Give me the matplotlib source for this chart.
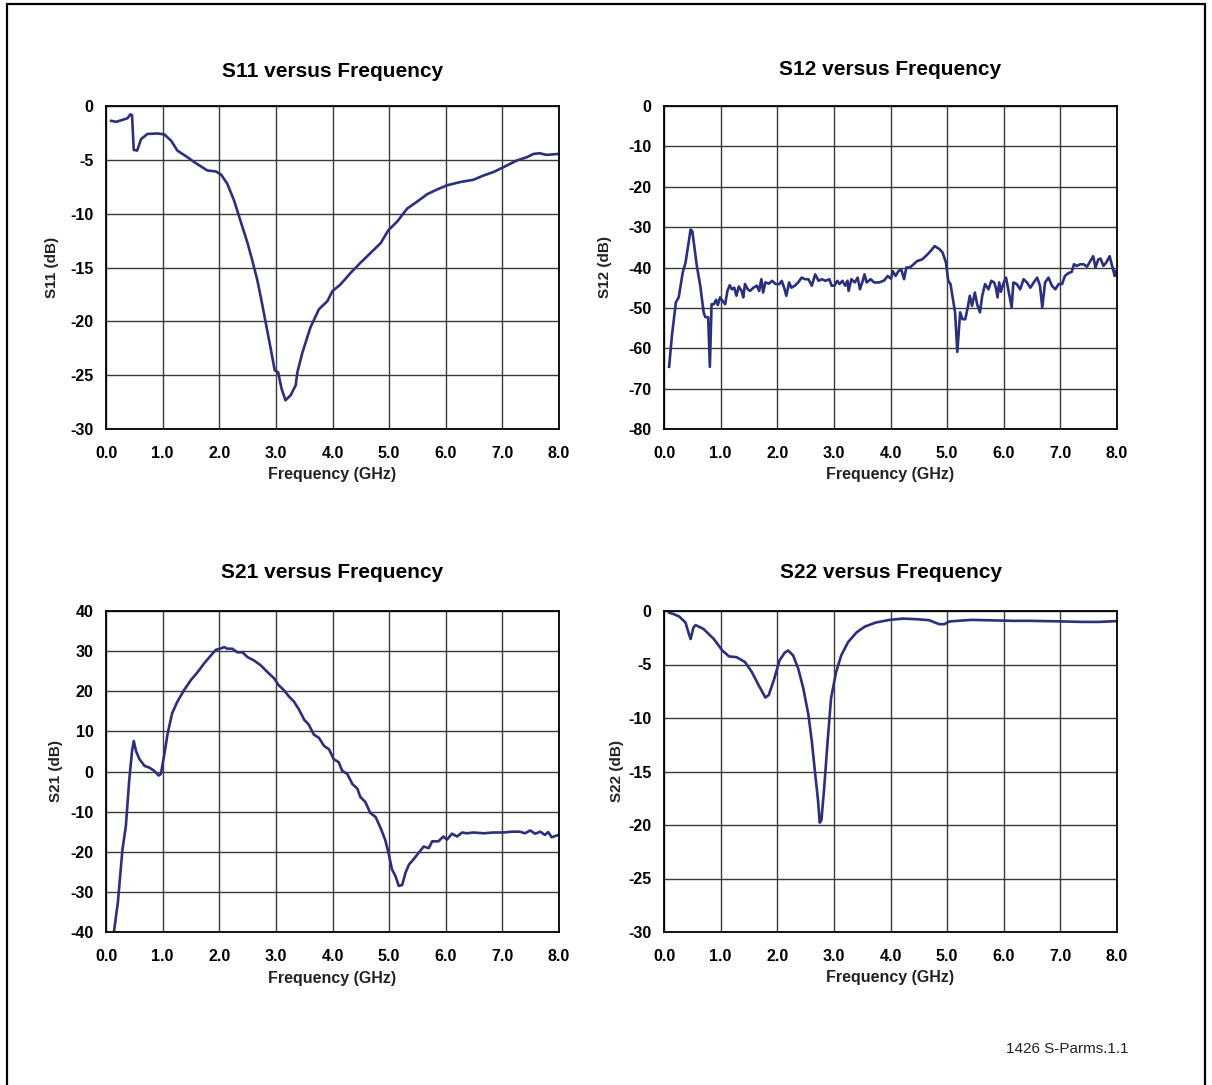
import matplotlib
matplotlib.use('Agg')
import matplotlib.pyplot as plt
from matplotlib.ticker import FormatStrFormatter, MultipleLocator
from matplotlib.patches import Rectangle

plt.rcParams['font.family'] = ['Liberation Sans', 'DejaVu Sans']
plt.rcParams['axes.unicode_minus'] = False

# S11 readings (GHz, dB)
s11_freq = [0.09, 0.18, 0.38, 0.43, 0.46, 0.49, 0.55, 0.62, 0.73, 0.91, 1.03, 1.15, 1.26, 1.44,
            1.56, 1.79, 1.94, 2.03, 2.14, 2.26, 2.38, 2.50, 2.58, 2.67, 2.73, 2.82, 2.91, 2.98,
            3.04, 3.10, 3.17, 3.26, 3.35, 3.38, 3.47, 3.61, 3.76, 3.91, 4.00, 4.14, 4.32, 4.49,
            4.67, 4.85, 4.99, 5.14, 5.32, 5.49, 5.67, 5.84, 6.02, 6.26, 6.49, 6.67, 6.84, 7.02,
            7.25, 7.43, 7.55, 7.66, 7.78, 7.99]
s11_db = [-1.38, -1.47, -1.14, -0.77, -0.86, -4.08, -4.14, -3.07, -2.6, -2.55, -2.64, -3.22, -4.14,
          -4.76, -5.22, -5.99, -6.08, -6.36, -7.2, -8.75, -10.75, -12.74, -14.28, -16.12, -17.65,
          -20.11, -22.57, -24.56, -24.72, -26.25, -27.33, -26.87, -25.94, -24.72, -22.87, -20.57,
          -18.88, -18.12, -17.19, -16.58, -15.5, -14.58, -13.66, -12.74, -11.51, -10.75, -9.52,
          -8.9, -8.2, -7.77, -7.37, -7.06, -6.85, -6.45, -6.14, -5.68, -5.07, -4.76, -4.45, -4.39,
          -4.54, -4.45]

# S12 readings
s12_freq = [0.09, 0.14, 0.21, 0.26, 0.33, 0.38, 0.47, 0.50, 0.58, 0.64, 0.70, 0.73, 0.78, 0.81,
            0.84, 0.88, 0.92, 0.95, 0.99, 1.03, 1.08, 1.12, 1.16, 1.20, 1.24, 1.28, 1.32, 1.37,
            1.40, 1.43, 1.48, 1.52, 1.58, 1.64, 1.68, 1.72, 1.75, 1.79, 1.85, 1.91, 1.97, 2.04,
            2.08, 2.13, 2.16, 2.21, 2.25, 2.31, 2.37, 2.43, 2.49, 2.55, 2.61, 2.67, 2.73, 2.79,
            2.85, 2.92, 2.96, 3.01, 3.06, 3.10, 3.15, 3.20, 3.24, 3.26, 3.31, 3.37, 3.42, 3.46,
            3.51, 3.54, 3.58, 3.65, 3.71, 3.80, 3.89, 3.95, 4.01, 4.04, 4.09, 4.14, 4.19, 4.24,
            4.28, 4.34, 4.41, 4.47, 4.56, 4.65, 4.71, 4.78, 4.86, 4.92, 4.98, 5.02, 5.06, 5.14,
            5.18, 5.23, 5.27, 5.32, 5.37, 5.40, 5.44, 5.49, 5.53, 5.58, 5.62, 5.67, 5.73, 5.78,
            5.83, 5.86, 5.89, 5.92, 5.95, 6.00, 6.04, 6.09, 6.14, 6.17, 6.23, 6.29, 6.35, 6.41,
            6.47, 6.53, 6.59, 6.64, 6.68, 6.73, 6.79, 6.85, 6.91, 6.97, 7.03, 7.08, 7.14, 7.20,
            7.24, 7.29, 7.35, 7.41, 7.47, 7.53, 7.58, 7.62, 7.67, 7.71, 7.76, 7.81, 7.87, 7.93,
            7.96, 7.98]
s12_db = [-64.6, -56.9, -48.6, -47.4, -41.3, -38.8, -30.6, -31.0, -39.6, -44.5, -51.1, -52.3, -52.3,
          -64.6, -49.1, -49.1, -48.0, -49.3, -47.4, -48.2, -49.1, -45.8, -44.4, -45.4, -45.0, -47.0,
          -44.7, -45.8, -47.4, -44.1, -45.4, -45.8, -45.0, -44.5, -45.8, -42.9, -46.2, -43.7, -44.0,
          -43.3, -44.1, -44.1, -43.3, -45.4, -47.0, -43.7, -45.0, -44.5, -43.7, -42.5, -42.9, -42.9,
          -44.5, -41.7, -43.3, -42.9, -43.3, -42.9, -44.5, -44.5, -43.3, -44.1, -43.3, -44.5, -43.3,
          -45.8, -42.9, -43.7, -42.5, -45.4, -43.3, -41.7, -43.7, -42.9, -43.7, -43.7, -43.2, -42.1,
          -42.8, -40.9, -42.1, -40.9, -40.5, -42.9, -40.0, -40.0, -39.2, -38.4, -38.0, -36.8, -35.9,
          -34.7, -35.4, -36.3, -38.8, -43.3, -44.1, -51.1, -60.9, -51.1, -52.8, -52.8, -49.5, -47.0,
          -49.5, -46.2, -49.1, -51.1, -47.0, -44.1, -45.4, -43.3, -43.7, -45.0, -47.4, -43.7, -46.0,
          -43.7, -42.5, -46.2, -49.9, -43.7, -44.1, -45.4, -42.9, -43.7, -45.0, -43.7, -42.5, -44.5,
          -49.9, -43.7, -42.5, -44.5, -45.4, -44.1, -44.1, -42.1, -41.4, -41.1, -39.2, -39.6, -39.2,
          -39.2, -39.8, -38.4, -37.2, -40.0, -38.0, -37.8, -39.6, -38.8, -37.2, -40.5, -42.1, -40.9]

# S21 readings
s21_freq = [0.14, 0.21, 0.29, 0.35, 0.41, 0.46, 0.49, 0.53, 0.59, 0.68, 0.76, 0.85, 0.93, 0.97,
            1.03, 1.09, 1.17, 1.26, 1.38, 1.50, 1.62, 1.73, 1.85, 1.94, 2.03, 2.09, 2.14, 2.23,
            2.32, 2.41, 2.50, 2.61, 2.73, 2.85, 2.97, 3.05, 3.14, 3.23, 3.32, 3.41, 3.50, 3.58,
            3.67, 3.76, 3.85, 3.94, 4.02, 4.11, 4.17, 4.26, 4.35, 4.44, 4.49, 4.58, 4.67, 4.76,
            4.85, 4.93, 4.99, 5.05, 5.11, 5.17, 5.23, 5.29, 5.35, 5.43, 5.52, 5.61, 5.70, 5.76,
            5.87, 5.96, 6.02, 6.11, 6.20, 6.29, 6.37, 6.49, 6.67, 6.84, 7.02, 7.17, 7.31, 7.40,
            7.49, 7.58, 7.67, 7.75, 7.81, 7.87, 7.99]
s21_db = [-40.0, -32.6, -19.5, -13.7, -2.2, 5.1, 7.6, 5.1, 3.1, 1.4, 1.0, 0.2, -1.0, -0.6, 4.3, 9.6,
          14.6, 17.4, 20.3, 22.8, 24.8, 26.9, 28.9, 30.3, 30.7, 31.0, 30.6, 30.6, 29.7, 29.7, 28.5,
          27.7, 26.5, 24.8, 23.2, 21.5, 20.3, 18.7, 17.4, 15.4, 12.9, 11.7, 9.2, 8.4, 6.4, 5.5, 3.1,
          2.3, 0.2, -0.6, -3.1, -4.3, -6.3, -7.6, -10.4, -11.3, -14.1, -17.0, -20.3, -24.4, -26.0,
          -28.5, -28.3, -25.2, -23.2, -21.9, -20.3, -18.7, -19.1, -17.4, -17.4, -16.2, -17.0, -15.5,
          -16.2, -15.2, -15.4, -15.2, -15.4, -15.2, -15.2, -15.0, -15.0, -15.4, -14.7, -15.5, -15.0,
          -15.8, -15.1, -16.4, -15.8]

# S22 readings
s22_freq = [0.09, 0.18, 0.27, 0.38, 0.44, 0.47, 0.52, 0.56, 0.70, 0.88, 1.03, 1.15, 1.28, 1.43,
            1.55, 1.67, 1.79, 1.85, 1.94, 2.04, 2.13, 2.19, 2.28, 2.37, 2.46, 2.55, 2.61, 2.67,
            2.72, 2.75, 2.78, 2.83, 2.89, 2.95, 3.04, 3.13, 3.25, 3.40, 3.55, 3.74, 3.98, 4.22,
            4.47, 4.68, 4.86, 4.95, 5.04, 5.26, 5.44, 5.68, 5.92, 6.17, 6.47, 6.78, 7.08, 7.38,
            7.68, 7.98]
s22_db = [-0.15, -0.31, -0.52, -1.08, -2.15, -2.62, -1.54, -1.32, -1.69, -2.62, -3.69, -4.25, -4.31,
          -4.77, -5.69, -6.92, -8.09, -7.85, -6.46, -4.62, -3.91, -3.69, -4.15, -5.38, -7.23, -9.69,
          -12.15, -15.23, -17.69, -19.78, -19.54, -16.46, -12.15, -8.15, -5.69, -4.15, -2.92, -2.0,
          -1.45, -1.08, -0.83, -0.71, -0.77, -0.86, -1.23, -1.23, -0.98, -0.89, -0.83, -0.86, -0.89,
          -0.92, -0.92, -0.95, -0.98, -1.02, -1.02, -0.95]

line_color = '#2b2f7c'

fig = plt.figure(figsize=(12.12, 10.85), dpi=100)

W, H = 1212.0, 1085.0
panels = [
    # (pixel box: left, top, right, bottom), freq, db, title, ylabel, ylim, ystep, ylabel x, title y, xlabel y
    ((106, 106, 559, 429), s11_freq, s11_db, 'S11 versus Frequency', 'S11 (dB)', (-30, 0), 5, -0.119, 1.108, -0.141),
    ((664, 106, 1117, 429), s12_freq, s12_db, 'S12 versus Frequency', 'S12 (dB)', (-80, 0), 10, -0.130, 1.112, -0.141),
    ((106, 611, 559, 932), s21_freq, s21_db, 'S21 versus Frequency', 'S21 (dB)', (-40, 40), 10, -0.110, 1.119, -0.146),
    ((664, 611, 1117, 932), s22_freq, s22_db, 'S22 versus Frequency', 'S22 (dB)', (-30, 0), 5, -0.103, 1.119, -0.143),
]

for box, freq, db, title, ylab, ylim, ystep, ylx, ty, xly in panels:
    l, t, r, b = box
    ax = fig.add_axes([l / W, 1 - b / H, (r - l) / W, (b - t) / H])
    ax.plot(freq, db, color=line_color, lw=1.9, solid_joinstyle='round')
    ax.set_xlim(0, 8)
    ax.set_ylim(*ylim)
    ax.xaxis.set_major_locator(MultipleLocator(1))
    ax.yaxis.set_major_locator(MultipleLocator(ystep))
    ax.xaxis.set_major_formatter(FormatStrFormatter('%.1f'))
    ax.grid(True, color='#3a3a3a', lw=1.0)
    ax.set_axisbelow(True)
    for s in ax.spines.values():
        s.set_linewidth(1.3)
        s.set_color('black')
    ax.tick_params(length=0, labelsize=11.5, pad=9)
    ax.tick_params(axis='x', pad=12)
    for lab in ax.get_xticklabels() + ax.get_yticklabels():
        lab.set_fontweight('bold')
    ax.set_xlabel('Frequency (GHz)', fontsize=11.5, fontweight='bold', color='#222222')
    ax.xaxis.set_label_coords(0.5, xly)
    ax.xaxis.label.set_va('center')
    ax.set_ylabel(ylab, fontsize=11, fontweight='bold', color='#222222')
    ax.yaxis.set_label_coords(ylx, 0.5)
    ax.yaxis.label.set_va('center')
    ax.text(0.5, ty, title, transform=ax.transAxes, ha='center', va='center',
            fontsize=15, fontweight='bold')

# outer frame (open at the bottom edge)
fig.add_artist(Rectangle((7 / W, -0.02), (1205 - 7) / W, 1 - 4 / H + 0.02,
                         transform=fig.transFigure, fill=False, lw=1.6, color='black'))

fig.text(1067 / W, 1 - 1049 / H, '1426 S-Parms.1.1', ha='center', va='center', fontsize=11,
         color='#222222')

fig.savefig('out.png', dpi=100)
